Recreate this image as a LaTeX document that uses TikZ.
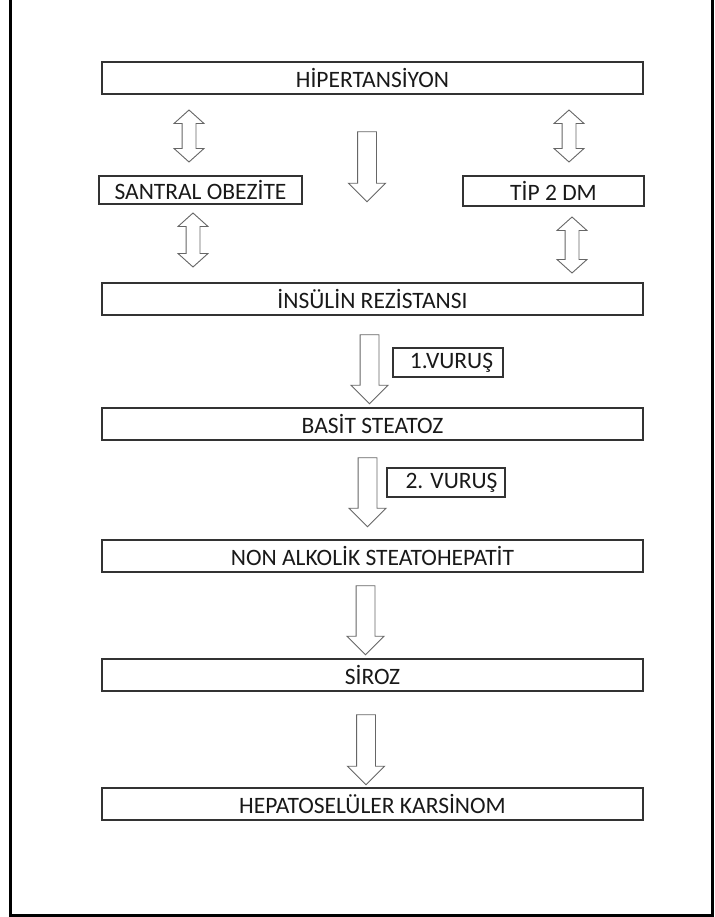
\documentclass[tikz,border=0pt]{standalone}
\usepackage{fontspec}
\setmainfont{Carlito}
\usetikzlibrary{shapes.arrows}

\tikzset{
	box/.style={draw=black!80, line width=1.1pt, text=black!90, inner sep=0pt,
		font=\fontsize{23.5pt}{27pt}\selectfont},
	wide/.style={box, minimum width=541pt, minimum height=32pt},
	% hollow block arrows, pointing down
	downarr/.style={single arrow, draw=black!60, fill=white, line width=0.9pt,
		rotate=-90, inner xsep=0pt, inner ysep=9pt,
		single arrow head extend=9pt, single arrow tip angle=90, minimum height=#1},
	updown/.style={double arrow, draw=black!60, fill=white, line width=0.9pt,
		rotate=-90, inner xsep=0pt, inner ysep=6.5pt,
		double arrow head extend=8pt, double arrow tip angle=96, minimum height=#1},
}

\begin{document}
\begin{tikzpicture}[x=1pt, y=-1pt]

	\useasboundingbox (0,0) rectangle (714,917);

	% outer frame (open at the top)
	\draw[line width=3pt] (10,0) -- (10,915) -- (712,915) -- (712,0);

	% the chain of boxes, top to bottom
	\node[wide] (H)    at (372.5,78)  {HİPERTANSİYON};
	\node[box, minimum width=203pt, minimum height=28pt] (SO) at (200.5,190) {SANTRAL OBEZİTE};
	\node[box, minimum width=181pt, minimum height=30pt] (T2) at (553.5,191) {TİP 2 DM};
	\node[wide] (IR)   at (372.5,299) {İNSÜLİN REZİSTANSI};
	\node[wide] (BS)   at (372.5,424) {BASİT STEATOZ};
	\node[wide] (NASH) at (372.5,556) {NON ALKOLİK STEATOHEPATİT};
	\node[wide] (S)    at (372.5,675) {SİROZ};
	\node[wide] (HCC)  at (372.5,804) {HEPATOSELÜLER KARSİNOM};

	% the two hits
	\node[box, minimum width=110pt, minimum height=29pt] (V1) at (448,362.5) {\hspace*{7pt}1.VURUŞ};
	\node[box, minimum width=118pt, minimum height=29pt] (V2) at (446,482.5) {\hspace*{11pt}2. VURUŞ};

	% arrows between the boxes
	\node[updown=52pt]  (A1) at (189,136)   {};
	\node[updown=54pt]  (A2) at (193,240)   {};
	\node[updown=52pt]  (A3) at (569,136)   {};
	\node[updown=56pt]  (A4) at (572,245)   {};
	\node[downarr=70pt] (A5) at (367,162)   {};
	\node[downarr=69pt] (A6) at (369.5,364.5) {};
	\node[downarr=69pt] (A7) at (367.5,487.5) {};
	\node[downarr=69pt] (A8) at (365.5,615.5) {};
	\node[downarr=70pt] (A9) at (366,745)   {};

\end{tikzpicture}
\end{document}
